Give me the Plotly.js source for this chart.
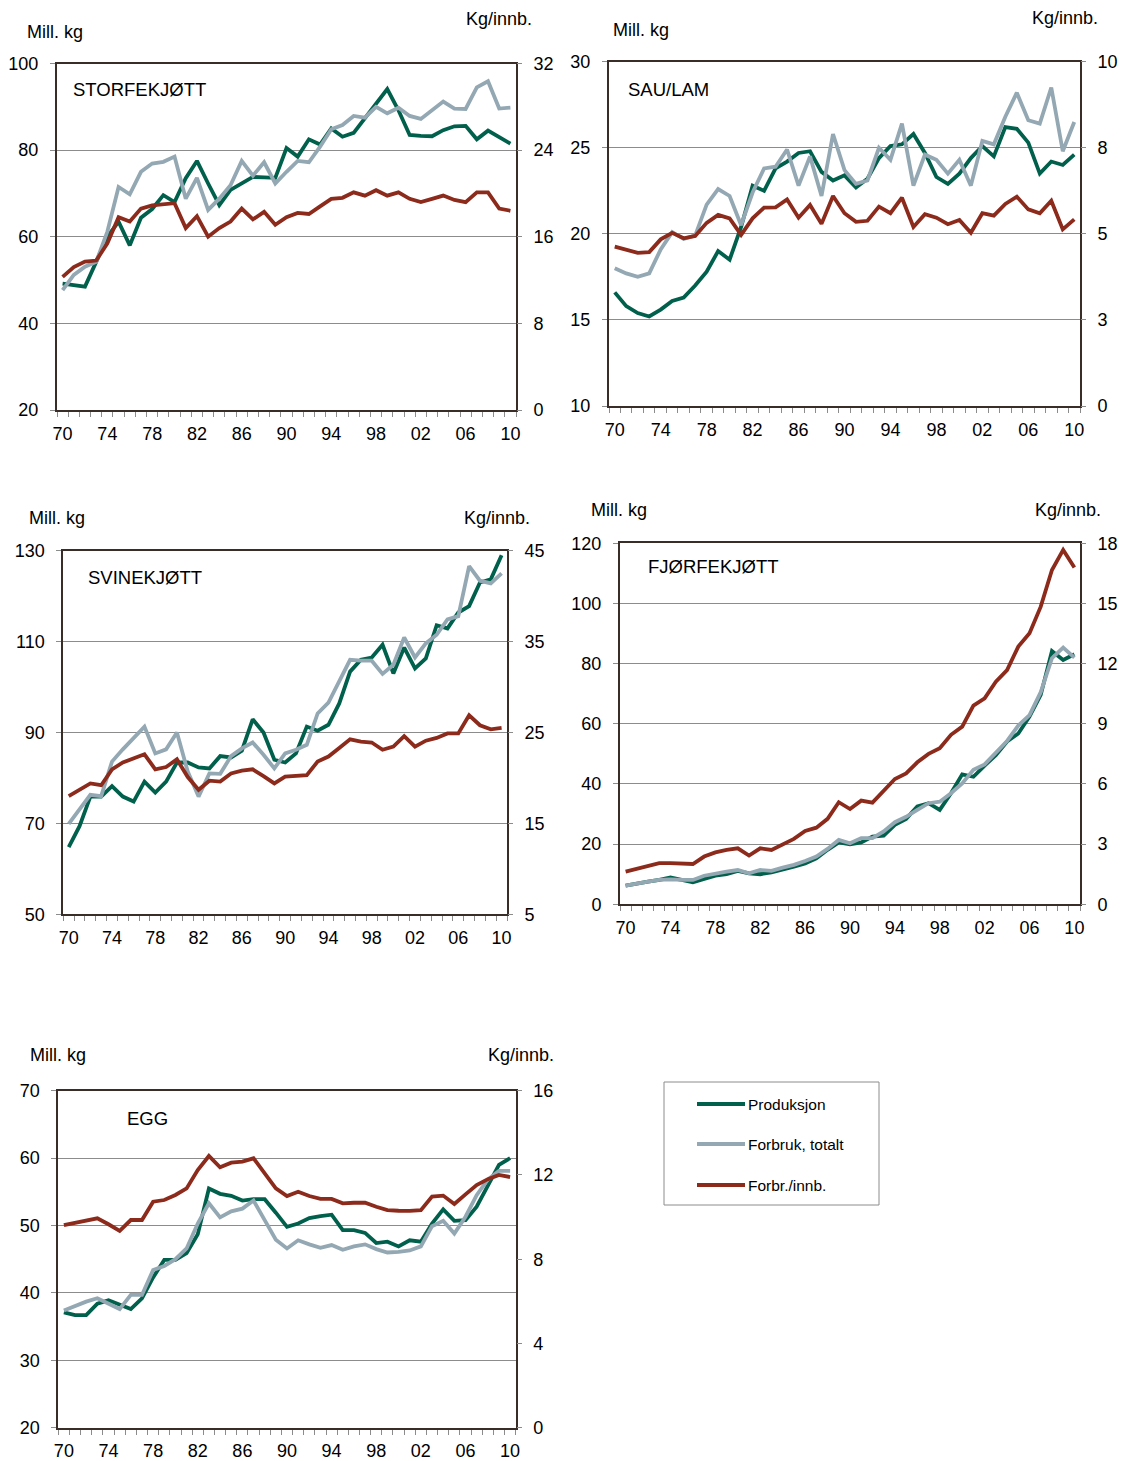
<!DOCTYPE html>
<html>
<head>
<meta charset="utf-8">
<script src="https://cdn.plot.ly/plotly-3.0.1.min.js"></script>
<style>html,body{margin:0;padding:0;background:#fff;}</style>
</head>
<body>
<div id="chart" style="width:1126px;height:1461px;"></div>
<script>
// ---------------- DATA ----------------
const years = [1970,1971,1972,1973,1974,1975,1976,1977,1978,1979,1980,1981,1982,1983,1984,1985,1986,1987,1988,1989,1990,1991,1992,1993,1994,1995,1996,1997,1998,1999,2000,2001,2002,2003,2004,2005,2006,2007,2008,2009,2010];
const xTickVals = [1970,1974,1978,1982,1986,1990,1994,1998,2002,2006,2010];
const xTickText = ['70','74','78','82','86','90','94','98','02','06','10'];
const seriesNames = ['Produksjon','Forbruk, totalt','Forbr./innb.'];
const leftUnit = 'Mill. kg';
const rightUnit = 'Kg/innb.';
const panelTitles = ['STORFEKJØTT','SAU/LAM','SVINEKJØTT','FJØRFEKJØTT','EGG'];

// Storfekjøtt
const storfeProd = [49.2,48.8,48.5,54.2,60.0,63.5,58.0,64.4,66.4,69.6,68.0,73.5,77.5,72.3,67.3,70.8,72.3,73.8,73.7,73.6,80.5,78.5,82.5,81.3,85.0,83.1,84.0,87.3,90.5,94.1,89.2,83.5,83.3,83.2,84.6,85.5,85.6,82.5,84.5,83.1,81.5];
const storfeForbruk = [47.7,51.2,53.1,54.2,61.2,71.5,69.8,75.0,76.9,77.3,78.5,68.8,73.6,66.2,68.8,71.9,77.5,74.1,77.2,72.3,75.0,77.5,77.2,80.8,84.8,85.8,87.9,87.5,90.0,88.5,89.8,87.9,87.2,89.2,91.2,89.6,89.5,94.5,95.9,89.6,89.8];
const storfeInnb = [12.3,13.2,13.7,13.8,15.4,17.8,17.4,18.6,18.9,19.0,19.1,16.8,17.9,16.0,16.8,17.4,18.6,17.6,18.3,17.1,17.8,18.2,18.1,18.8,19.5,19.6,20.1,19.8,20.3,19.8,20.1,19.5,19.2,19.5,19.8,19.4,19.2,20.1,20.1,18.6,18.4];

// Sau/lam
const sauProd = [16.6,15.8,15.4,15.2,15.6,16.1,16.3,17.0,17.8,19.0,18.5,20.4,22.8,22.5,23.8,24.2,24.7,24.8,23.6,23.1,23.4,22.7,23.2,24.4,25.1,25.2,25.8,24.7,23.3,22.9,23.5,24.4,25.1,24.5,26.2,26.1,25.3,23.5,24.2,24.0,24.6];
const sauForbruk = [18.0,17.7,17.5,17.7,19.1,20.1,19.7,19.9,21.7,22.6,22.2,20.5,22.4,23.8,23.9,24.9,22.8,24.5,22.2,25.8,23.7,22.9,23.1,25.0,24.3,26.4,22.8,24.6,24.3,23.5,24.3,22.8,25.4,25.2,26.8,28.2,26.6,26.4,28.5,24.8,26.5];
const sauInnb = [4.63,4.53,4.45,4.47,4.84,5.03,4.87,4.94,5.32,5.55,5.45,4.97,5.45,5.76,5.77,6.0,5.47,5.84,5.29,6.1,5.6,5.35,5.38,5.79,5.6,6.05,5.2,5.57,5.47,5.28,5.4,5.03,5.6,5.53,5.87,6.08,5.71,5.6,5.96,5.13,5.42];

// Svinekjøtt
const svinProd = [64.8,69.4,75.9,75.9,78.2,75.9,74.8,79.2,76.8,79.2,83.4,83.4,82.3,82.1,84.8,84.5,86.0,92.9,90.0,84.0,83.4,85.4,91.3,90.4,91.7,96.4,103.4,106.0,106.5,109.3,103.0,108.7,104.1,106.3,113.6,112.9,116.4,117.8,123.0,123.7,129.0];
const svinForbruk = [69.9,73.1,76.3,76.0,83.6,86.3,88.7,91.3,85.4,86.3,90.0,81.4,75.9,81.0,80.9,84.8,86.5,87.8,85.1,82.1,85.4,86.2,87.3,94.2,96.6,101.2,106.0,105.8,105.8,102.9,104.9,110.9,106.5,109.6,111.5,114.9,115.6,126.6,123.4,122.8,125.0];
const svinInnb = [18.0,18.75,19.4,19.2,20.95,21.7,22.2,22.6,20.95,21.2,22.05,20.1,18.7,19.7,19.6,20.5,20.8,20.95,20.2,19.4,20.15,20.2,20.3,21.8,22.35,23.3,24.25,24.0,23.9,23.1,23.45,24.6,23.45,24.1,24.4,24.9,24.9,26.9,25.8,25.35,25.5];

// Fjørfekjøtt
const fjorProd = [6.2,7.0,7.5,8.1,8.9,8.1,7.3,8.4,9.5,10.0,11.1,10.3,10.0,10.6,11.4,12.5,13.6,15.3,18.1,20.6,19.9,20.6,22.5,22.8,26.4,28.4,32.5,33.6,31.4,36.9,43.2,42.4,46.1,49.6,54.1,56.8,62.4,69.6,84.2,81.2,83.1];
const fjorForbruk = [6.2,7.0,7.5,8.1,8.3,8.1,8.1,9.5,10.3,10.9,11.4,10.3,11.4,11.1,12.2,13.1,14.4,15.9,18.4,21.4,20.3,22.0,22.0,24.2,27.3,29.1,31.4,33.6,34.1,36.9,40.2,44.7,46.5,50.5,54.3,59.4,62.9,70.5,81.8,85.3,82.0];
const fjorInnb = [1.63,1.76,1.88,2.05,2.05,2.03,2.01,2.38,2.59,2.71,2.79,2.43,2.79,2.71,2.99,3.26,3.66,3.82,4.26,5.09,4.75,5.17,5.07,5.65,6.25,6.53,7.08,7.5,7.78,8.45,8.86,9.91,10.27,11.1,11.68,12.85,13.51,14.84,16.67,17.67,16.79];

// Egg
const eggProd = [37.1,36.7,36.7,38.4,38.9,38.2,37.6,39.2,42.3,44.9,44.9,45.9,48.7,55.5,54.7,54.4,53.7,53.9,53.9,51.9,49.8,50.3,51.1,51.4,51.6,49.3,49.3,48.9,47.4,47.6,46.9,47.8,47.6,50.3,52.4,50.7,50.8,52.8,55.9,59.0,60.0];
const eggForbruk = [37.4,38.1,38.7,39.2,38.4,37.6,39.7,39.7,43.4,44.0,45.0,46.6,50.3,53.3,51.2,52.1,52.5,53.7,50.8,47.9,46.6,47.8,47.2,46.7,47.1,46.4,46.9,47.2,46.5,46.0,46.1,46.3,46.9,49.9,50.7,48.8,51.3,54.5,56.8,58.1,58.1];
const eggInnb = [9.62,9.73,9.83,9.94,9.66,9.35,9.86,9.86,10.73,10.81,11.05,11.36,12.23,12.9,12.36,12.58,12.63,12.79,12.08,11.36,11.0,11.2,11.0,10.86,10.86,10.65,10.68,10.68,10.49,10.33,10.3,10.29,10.33,10.97,11.02,10.62,11.08,11.52,11.8,12.0,11.9];

// Axis ticks
const storfeLeftTicks = [20,40,60,80,100];
const storfeRightTicks = [0,8,16,24,32];
const sauLeftTicks = [10,15,20,25,30];
const sauRightTicks = [0,2.5,5,7.5,10];
const sauRightTickText = ['0','3','5','8','10'];
const svinLeftTicks = [50,70,90,110,130];
const svinRightTicks = [5,15,25,35,45];
const fjorLeftTicks = [0,20,40,60,80,100,120];
const fjorRightTicks = [0,3,6,9,12,15,18];
const eggLeftTicks = [20,30,40,50,60,70];
const eggRightTicks = [0,4,8,12,16];

// ---------------- STYLE / LAYOUT ----------------
const W = 1126, H = 1461;
const colors = ['#00604b', '#93a8b3', '#8c2a1c'];
const FONT = 'Liberation Sans, Arial, sans-serif';
const borderColor = '#3a2c27';
const tickColor = '#8c8c8c';
const gridColor = '#8c8c8c';

const panels = [
  {title: panelTitles[0], prod: storfeProd, cons: storfeForbruk, innb: storfeInnb,
   lt: storfeLeftTicks, rt: storfeRightTicks, rtt: null,
   box: [57, 516, 63.5, 410], titlePos: [71, 89], leftLab: [25, 32], rightLab: [464, 19]},
  {title: panelTitles[1], prod: sauProd, cons: sauForbruk, innb: sauInnb,
   lt: sauLeftTicks, rt: sauRightTicks, rtt: sauRightTickText,
   box: [609, 1080, 61.7, 406], titlePos: [626, 89], leftLab: [611, 30], rightLab: [1030, 18]},
  {title: panelTitles[2], prod: svinProd, cons: svinForbruk, innb: svinInnb,
   lt: svinLeftTicks, rt: svinRightTicks, rtt: null,
   box: [63.3, 507, 550.7, 914.3], titlePos: [86, 577], leftLab: [27, 518], rightLab: [462, 518]},
  {title: panelTitles[3], prod: fjorProd, cons: fjorForbruk, innb: fjorInnb,
   lt: fjorLeftTicks, rt: fjorRightTicks, rtt: null,
   box: [620, 1080, 543.3, 904.3], titlePos: [646, 567], leftLab: [589, 510], rightLab: [1033, 510]},
  {title: panelTitles[4], prod: eggProd, cons: eggForbruk, innb: eggInnb,
   lt: eggLeftTicks, rt: eggRightTicks, rtt: null,
   box: [58.3, 515.7, 1090.7, 1427.7], titlePos: [125, 1118], leftLab: [28, 1055], rightLab: [486, 1055]}
];

const px = x => x / W;
const py = y => 1 - y / H;

const traces = [];
const layout = {
  width: W, height: H,
  margin: {l: 0, r: 0, t: 0, b: 0},
  paper_bgcolor: '#ffffff',
  plot_bgcolor: '#ffffff',
  showlegend: false,
  font: {family: FONT, size: 18, color: '#000'},
  annotations: [],
  shapes: []
};

panels.forEach((p, i) => {
  const xn = i + 1, yl = 2 * i + 1, yr = 2 * i + 2;
  const xa = 'x' + xn, yla = 'y' + yl, yra = 'y' + yr;
  traces.push({x: years, y: p.prod, name: seriesNames[0], type: 'scatter', mode: 'lines',
    line: {color: colors[0], width: 3.8}, xaxis: xa, yaxis: yla});
  traces.push({x: years, y: p.cons, name: seriesNames[1], type: 'scatter', mode: 'lines',
    line: {color: colors[1], width: 3.8}, xaxis: xa, yaxis: yla});
  traces.push({x: years, y: p.innb, name: seriesNames[2], type: 'scatter', mode: 'lines',
    line: {color: colors[2], width: 3.8}, xaxis: xa, yaxis: yra});

  const [x0, x1, yt, yb] = p.box;
  layout['xaxis' + xn] = {
    domain: [px(x0), px(x1)], anchor: yla,
    range: [years[0] - 0.5, years[years.length - 1] + 0.5],
    tickmode: 'array', tickvals: xTickVals, ticktext: xTickText,
    ticks: 'outside', ticklen: 5, tickcolor: 'rgba(0,0,0,0)',
    ticklabelstandoff: 1,
    minor: {ticks: 'outside', ticklen: 5, tickwidth: 1, tickcolor: tickColor,
            tickmode: 'linear', tick0: years[0] - 0.5, dtick: 1, showgrid: false},
    showgrid: false, zeroline: false,
    showline: true, linecolor: borderColor, linewidth: 2, mirror: true,
    tickfont: {family: FONT, size: 18, color: '#000'},
    fixedrange: true
  };
  layout['yaxis' + yl] = {
    domain: [py(yb), py(yt)], anchor: xa, side: 'left',
    range: [p.lt[0], p.lt[p.lt.length - 1]],
    tickmode: 'array', tickvals: p.lt,
    ticks: 'outside', ticklen: 5, tickcolor: tickColor, tickwidth: 1,
    ticklabelstandoff: 8,
    showgrid: true, gridcolor: gridColor, gridwidth: 1, zeroline: false,
    showline: true, linecolor: borderColor, linewidth: 2, mirror: true,
    tickfont: {family: FONT, size: 18, color: '#000'},
    fixedrange: true
  };
  const ry = {
    overlaying: yla, anchor: xa, side: 'right',
    range: [p.rt[0], p.rt[p.rt.length - 1]],
    tickmode: 'array', tickvals: p.rt,
    ticks: 'outside', ticklen: 5, tickcolor: tickColor, tickwidth: 1,
    ticklabelstandoff: 8,
    showgrid: false, zeroline: false, showline: false,
    tickfont: {family: FONT, size: 18, color: '#000'},
    fixedrange: true
  };
  if (p.rtt) ry.ticktext = p.rtt;
  layout['yaxis' + yr] = ry;

  layout.annotations.push({xref: 'paper', yref: 'paper', x: px(p.titlePos[0]), y: py(p.titlePos[1]),
    xanchor: 'left', yanchor: 'middle', showarrow: false, text: p.title,
    font: {family: FONT, size: 18.5, color: '#000'}});
  layout.annotations.push({xref: 'paper', yref: 'paper', x: px(p.leftLab[0]), y: py(p.leftLab[1]),
    xanchor: 'left', yanchor: 'middle', showarrow: false, text: leftUnit,
    font: {family: FONT, size: 18, color: '#000'}});
  layout.annotations.push({xref: 'paper', yref: 'paper', x: px(p.rightLab[0]), y: py(p.rightLab[1]),
    xanchor: 'left', yanchor: 'middle', showarrow: false, text: rightUnit,
    font: {family: FONT, size: 18, color: '#000'}});
});

// Legend box (drawn with shapes + text)
const legBox = [664, 879, 1082, 1205];
const legRows = [1104, 1144, 1185];
layout.shapes.push({type: 'rect', xref: 'paper', yref: 'paper',
  x0: px(legBox[0]), x1: px(legBox[1]), y0: py(legBox[3]), y1: py(legBox[2]),
  line: {color: '#8c8c8c', width: 1}, fillcolor: 'rgba(0,0,0,0)'});
seriesNames.forEach((n, k) => {
  layout.shapes.push({type: 'line', xref: 'paper', yref: 'paper',
    x0: px(697), x1: px(745), y0: py(legRows[k]), y1: py(legRows[k]),
    line: {color: colors[k], width: 4}});
  layout.annotations.push({xref: 'paper', yref: 'paper', x: px(746), y: py(legRows[k]),
    xanchor: 'left', yanchor: 'middle', showarrow: false, text: n,
    font: {family: FONT, size: 15.5, color: '#000'}});
});

Plotly.newPlot('chart', traces, layout, {staticPlot: true, displayModeBar: false});
</script>
</body>
</html>
